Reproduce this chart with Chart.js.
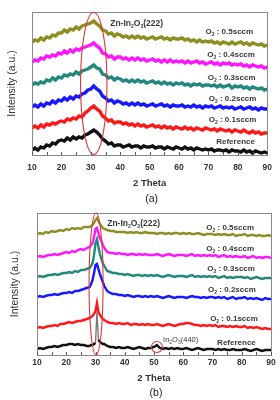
<!DOCTYPE html>
<html><head><meta charset="utf-8">
<script src="https://cdn.jsdelivr.net/npm/chart.js@4.4.1/dist/chart.umd.min.js"></script>
<style>
html,body{margin:0;padding:0;background:#fff;width:280px;height:400px;overflow:hidden}
#ca{position:absolute;left:0;top:0}
#cb{position:absolute;left:0;top:200px}
</style></head><body>
<canvas id="ca" width="280" height="210"></canvas>
<canvas id="cb" width="280" height="200"></canvas>
<script>
// ---------- data ----------
const xTicks = [10,20,30,40,50,60,70,80,90];
const seriesNames = ['O_2 : 0.5sccm','O_2 : 0.4sccm','O_2 : 0.3sccm','O_2 : 0.2sccm','O_2 : 0.1sccm','Reference'];
const seriesColors = ['#8e8e22','#ff14ff','#23887f','#1818ff','#ff1818','#111111'];

// panel (a): 2-theta grid
const thetaA = [10,11,12,13,14,15,16,17,18,19,20,21,22,23,24,25,26,27,28,29,30,31,32,33,34,35,36,37,38,39,40,41,42,43,44,45,46,47,48,49,50,51,52,53,54,55,56,57,58,59,60,61,62,63,64,65,66,67,68,69,70,71,72,73,74,75,76,77,78,79,80,81,82,83,84,85,86,87,88,89,90];
const a05 = [113,115,114,117,115,118,117,120,119,122, 122,125,123,126,125,128,126,129,130,131, 132,134,131,129,125,124,121,122,119,121, 120,118,119,117,119,117,119,117,118,116, 117,118,116,117,118,116,117,115,117,116, 116,117,115,116,114,115,113,115,113,114, 113,114,112,113,111,113,112,111,113,111, 112,113,111,112,110,112,111,110,111,109,110];
const a04 = [93,95,94,97,96,99,98,100,99,102, 101,104,102,105,103,106,105,107,108,109, 110,112,109,107,102,101,98,99,96,98, 98,96,97,95,97,95,97,95,96,94, 95,96,94,95,93,95,93,95,93,94, 93,94,92,94,92,93,94,92,93,91, 92,93,91,92,90,92,91,92,90,91, 90,91,89,90,88,90,89,88,89,87,88];
const a03 = [70,72,71,73,72,75,74,77,75,78, 77,80,79,81,80,83,81,84,85,86, 88,90,87,86,81,80,77,78,75,77, 76,74,75,73,75,73,75,73,74,72, 73,74,72,73,71,73,71,72,70,72, 71,72,70,71,69,71,70,71,69,70, 70,69,70,68,70,68,69,70,67,69, 68,69,67,68,66,68,67,66,67,65,66];
const a02 = [48,50,48,51,49,52,51,54,52,55, 54,57,55,58,56,59,58,61,62,65, 66,69,66,64,59,57,54,55,52,54, 53,51,52,50,52,50,52,50,51,49, 50,51,49,50,51,49,50,48,50,49, 49,50,48,49,48,50,48,49,47,49, 48,49,47,48,49,47,48,47,48,46, 47,48,46,47,48,46,47,45,47,46,46];
const a01 = [27,29,27,30,28,31,30,32,31,33, 34,33,36,35,37,36,39,38,42,44, 47,49,46,44,39,37,34,35,32,33, 33,31,32,30,31,29,31,29,30,28, 29,30,28,29,27,29,27,28,26,28, 27,26,28,26,27,25,27,26,25,27, 26,25,26,24,26,25,24,25,23,25, 24,23,25,23,22,24,22,23,21,22,22];
const aRef = [5,7,5,8,7,10,9,12,11,14, 15,14,17,15,18,16,18,17,20,21, 23,25,23,20,16,14,11,12,9,10, 10,8,9,10,8,9,9,7,9,8, 8,9,7,8,8,6,8,7,6,8, 7,6,8,6,7,5,7,6,5,6, 5,6,4,5,5,4,5,3,5,4, 4,3,5,3,4,2,4,3,2,3,2];

// panel (b): 2-theta grid (finer around the (222) peak)
const thetaB = [10,11,12,13,14,15,16,17,18,19,20,21,22,23,24,25,26,27,28,28.5,29,29.5,30,30.5,31,31.5,32,32.5,33,34,35,36,37,38,39,40,41,42,43,44,45,46,47,48,49,50,51,52,53,54,55,56,57,58,59,60,61,62,63,64,65,66,67,68,69,70,71,72,73,74,75,76,77,78,79,80,81,82,83,84,85,86,87,88,89,90];
const b05 = [121,122,121,123,122,124,123,124,125,124, 126,125,127,126,127,126,128,128, 128,129,130,132,135,137,134,131,129,127,126, 125,124, 124,123,123,123, 123,122,123,122,123,122,122,123,122,122, 122,121,122,122,121,122,121,122,122,121, 122,121,122,121,121,122,121,120,121,121, 121,120,121,120,121,120,120,121,119,120, 120,121,119,120,120,119,120,119,119,120,119];
const b04 = [98,99,98,99,100,100,101,100,101,102, 103,102,104,103,105,106,105,107, 108,110,112,118,126,127,122,117,114,110,107, 103,102, 102,101,102,101, 101,100,101,101,100,101,100,101,100,100, 100,101,100,99,100,101,100,99,100,100, 100,99,100,101,99,100,99,100,99,100, 99,100,98,99,100,98,99,98,99,98, 98,99,97,98,99,97,98,97,98,98,97];
const b03 = [78,79,78,79,80,80,81,80,81,82, 82,83,82,84,83,85,85,86, 87,89,92,100,112,116,108,101,96,92,89, 84,83, 82,82,81,81, 80,81,80,79,80,80,79,80,79,80, 79,80,79,78,79,80,79,78,79,79, 79,78,79,80,78,79,78,79,78,79, 78,79,77,78,79,77,78,77,78,78, 78,77,78,76,77,78,77,76,77,77,77];
const b02 = [58,59,58,59,60,60,61,60,61,62, 62,63,62,64,64,65,66,67, 68,71,75,82,90,91,86,81,77,73,69, 64,62, 61,61,60,60, 59,60,59,58,59,59,58,59,58,59, 58,59,58,57,58,59,58,57,58,58, 58,57,58,59,58,58,57,58,57,58, 58,57,58,57,58,56,57,58,56,57, 57,58,56,57,56,57,56,55,57,56,56];
const b01 = [27,28,27,28,29,29,30,29,31,31, 32,33,32,33,34,34,35,36, 37,38,39,41,44,52,43,40,38,36,35, 33,32, 32,31,32,31, 31,32,30,31,31,30,31,30,31,30, 30,31,30,29,30,31,30,29,30,31, 31,32,32,31,30,30,29,30,29,30, 29,30,28,29,29,28,29,28,29,28, 28,29,27,28,27,28,27,26,27,26,26];
const bRef = [6,7,6,7,8,8,9,8,9,10, 10,11,11,10,11,10,10,9, 9,10,10,11,12,43,15,13,12,11,11, 9,8, 8,7,8,7, 7,8,7,6,7,8,7,6,7,7, 8,10,7,6,7,6,7,6,7,6, 6,7,6,5,6,7,6,5,6,6, 6,5,6,5,6,5,5,6,5,5, 5,6,5,4,5,6,5,4,5,5,5];

// ---------- helpers ----------
const FONT = '"Liberation Sans", Arial, sans-serif';
function drawRich(ctx, str, x, y, align, size, weight, color){
  const parts = [];
  for (let i=0;i<str.length;i++){
    if (str[i]==='_' && i+1<str.length){ parts.push([str[i+1],true]); i++; }
    else { if (parts.length && !parts[parts.length-1][1]) parts[parts.length-1][0]+=str[i]; else parts.push([str[i],false]); }
  }
  const big = `${weight} ${size}px ${FONT}`, small = `${weight} ${Math.round(size*0.62)}px ${FONT}`;
  ctx.save(); ctx.fillStyle=color; ctx.textBaseline='middle'; ctx.textAlign='left';
  let w=0; parts.forEach(p=>{ctx.font=p[1]?small:big; w+=ctx.measureText(p[0]).width;});
  let cx = align==='right'? x-w : (align==='center'? x-w/2 : x);
  parts.forEach(p=>{ctx.font=p[1]?small:big; ctx.fillText(p[0],cx,y+(p[1]?size*0.3:0)); cx+=ctx.measureText(p[0]).width;});
  ctx.restore();
}
const deco = {
  id:'deco',
  afterDatasetsDraw(chart, args, o){
    const ctx=chart.ctx, a=chart.chartArea, xs=chart.scales.x, ys=chart.scales.y;
    ctx.save();
    ctx.strokeStyle='#8a8a8a'; ctx.lineWidth=1;
    ctx.strokeRect(Math.round(a.left)+0.5, Math.round(a.top)+0.5, Math.round(a.right-a.left), Math.round(a.bottom-a.top));
    ctx.strokeStyle='#555';
    o.minorTicks.forEach(v=>{const px=Math.round(xs.getPixelForValue(v))+0.5; ctx.beginPath(); ctx.moveTo(px,a.bottom); ctx.lineTo(px,a.bottom-3); ctx.stroke();});
    ctx.strokeStyle='#e03535'; ctx.lineWidth=1.1;
    o.ellipses.forEach(e=>{
      const cx=xs.getPixelForValue(e.x), cy=ys.getPixelForValue(e.y);
      const rx=Math.abs(xs.getPixelForValue(e.x+e.rx)-cx), ry=Math.abs(ys.getPixelForValue(e.y+e.ry)-cy);
      ctx.beginPath(); ctx.ellipse(cx,cy,rx,ry,0,0,Math.PI*2); ctx.stroke();
    });
    o.circles.forEach(c=>{
      ctx.beginPath(); ctx.arc(xs.getPixelForValue(c.x), ys.getPixelForValue(c.y), c.r, 0, Math.PI*2); ctx.stroke();
    });
    ctx.restore();
    o.notes.forEach(n=>drawRich(ctx, n.t, xs.getPixelForValue(n.x), ys.getPixelForValue(n.y), n.align, n.size, n.weight, '#383838'));
    drawRich(ctx, o.caption, (a.left+a.right)/2+2, o.captionY, 'center', 10.5, 'normal', '#222');
  }
};

function makeChart(id, theta, series, opts){
  const datasets = series.map((s,i)=>{
    const ds = {
      label: seriesNames[i],
      data: theta.map((t,j)=>({x:t, y:s[j]})),
      borderColor: seriesColors[i], backgroundColor: seriesColors[i],
      borderWidth: opts.lw, pointRadius:0, tension:0, fill:false
    };
    if (opts.spike && i === series.length-1) {
      const [lo,hi] = opts.spike;
      ds.segment = {
        borderColor: c => (c.p0.parsed.x>=lo && c.p1.parsed.x<=hi) ? '#7a7a7a' : undefined,
        borderWidth: c => (c.p0.parsed.x>=lo && c.p1.parsed.x<=hi) ? 1.4 : undefined
      };
    }
    return ds;
  });
  return new Chart(document.getElementById(id), {
    type:'line',
    data:{datasets},
    plugins:[deco],
    options:{
      responsive:false, animation:false, devicePixelRatio:1,
      layout:{padding:opts.pad},
      plugins:{legend:{display:false}, tooltip:{enabled:false}, deco:opts.deco},
      scales:{
        x:{type:'linear', min:10, max:90,
           afterBuildTicks(s){ s.ticks = xTicks.map(v=>({value:v})); },
           afterFit(s){ s.height = opts.xh; },
           grid:{display:false, drawTicks:false}, border:{display:false},
           ticks:{padding:opts.tickPad, color:'#333', font:{family:FONT, size:8.5, weight:'bold'}, maxRotation:0, autoSkip:false},
           title:{display:true, text:'2 Theta', color:'#333', font:{family:FONT, size:9.5, weight:'bold'}, padding:{top:0, bottom:opts.titlePad}}
        },
        y:{min:0, max:opts.ymax,
           afterFit(s){ s.width = opts.yw; },
           grid:{display:false, drawTicks:false}, border:{display:false},
           ticks:{display:false},
           title:{display:true, text:'Intensity (a.u.)', color:'#333', font:{family:FONT, size:10.5}, padding:{top:opts.yTitlePad, bottom:0}}
        }
      }
    }
  });
}

makeChart('ca', thetaA, [a05,a04,a03,a02,a01,aRef], {
  lw:3.4, pad:{top:12,right:10,left:0,bottom:10}, xh:45, yw:32, ymax:143, tickPad:8, titlePad:11, yTitlePad:6,
  deco:{
    minorTicks:[10,15,20,25,30,35,40,45,50,55,60,65,70,75,80,85,90],
    ellipses:[{x:31, y:71.5, rx:4.5, ry:71}],
    circles:[],
    caption:'(a)', captionY:199,
    notes:[
      {t:'Zn-In_2O_3(222)', x:36.6, y:131, align:'left', size:8.5, weight:'bold'},
      {t:seriesNames[0], x:85.2, y:123, align:'right', size:8, weight:'bold'},
      {t:seriesNames[1], x:85.8, y:100, align:'right', size:8, weight:'bold'},
      {t:seriesNames[2], x:86.0, y:77, align:'right', size:8, weight:'bold'},
      {t:seriesNames[3], x:86.3, y:56, align:'right', size:8, weight:'bold'},
      {t:seriesNames[4], x:86.3, y:35, align:'right', size:8, weight:'bold'},
      {t:seriesNames[5], x:85.8, y:13, align:'right', size:8, weight:'bold'}
    ]
  }
});

makeChart('cb', thetaB, [b05,b04,b03,b02,b01,bRef], {
  lw:2.4, pad:{top:13,right:9,left:0,bottom:0}, xh:45, yw:37, ymax:142, tickPad:3, titlePad:16, yTitlePad:9,
  spike:[30,31],
  deco:{
    minorTicks:[10,15,20,25,30,35,40,45,50,55,60,65,70,75,80,85,90],
    ellipses:[{x:30.2, y:71, rx:2.4, ry:71}],
    circles:[{x:51, y:8, r:5.5}],
    caption:'(b)', captionY:193,
    notes:[
      {t:'Zn-In_2O_3(222)', x:34, y:131, align:'left', size:8.5, weight:'bold'},
      {t:seriesNames[0], x:84.2, y:127, align:'right', size:8, weight:'bold'},
      {t:seriesNames[1], x:84.2, y:106, align:'right', size:8, weight:'bold'},
      {t:seriesNames[2], x:84.5, y:86, align:'right', size:8, weight:'bold'},
      {t:seriesNames[3], x:84.8, y:65, align:'right', size:8, weight:'bold'},
      {t:seriesNames[4], x:85.5, y:36, align:'right', size:8, weight:'bold'},
      {t:seriesNames[5], x:84.8, y:12, align:'right', size:8, weight:'bold'},
      {t:'In_2O_3(440)', x:53.1, y:15, align:'left', size:7.5, weight:'normal'}
    ]
  }
});
</script>
</body></html>
